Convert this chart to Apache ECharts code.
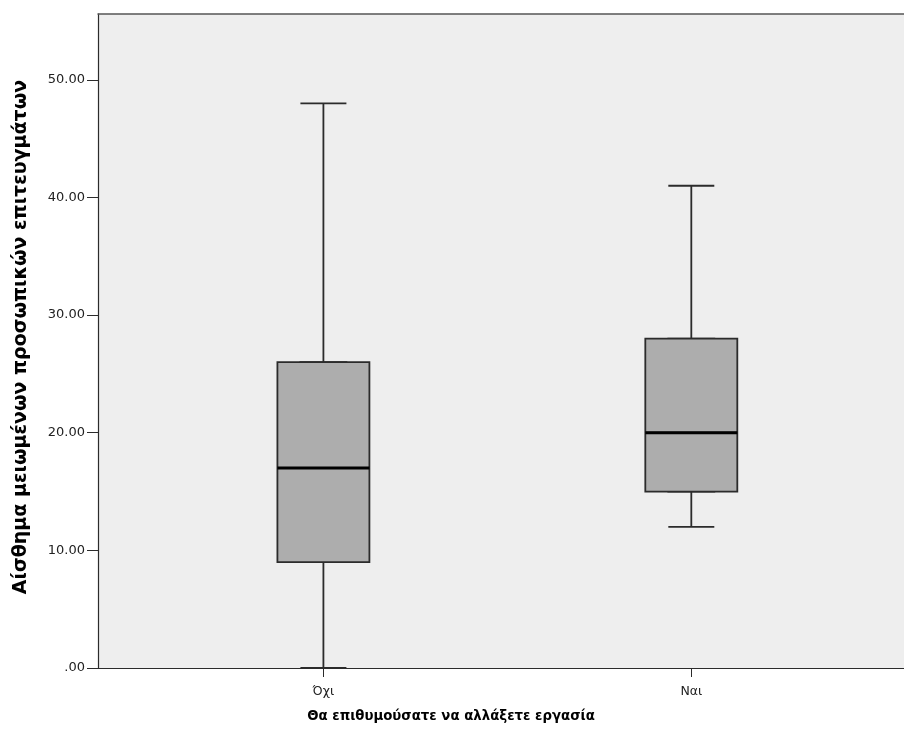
<!DOCTYPE html>
<html>
<head>
<meta charset="utf-8">
<script src="https://cdn.jsdelivr.net/npm/echarts@6/dist/echarts.min.js"></script>
<style>
html,body{margin:0;padding:0;background:#fff;overflow:hidden;}
#chart{width:904px;height:736px;}
</style>
</head>
<body>
<div id="chart"></div>
<script>
// ---- data ----
const categories = ['Όχι', 'Ναι'];
const whiskerLow = [0, 12];
const q1 = [9, 15];
const median = [17, 20];
const q3 = [26, 28];
const whiskerHigh = [48, 41];
const yTicks = [0, 10, 20, 30, 40, 50];
const xTitle = 'Θα επιθυμούσατε να αλλάξετε εργασία';
const yTitle = 'Αίσθημα μειωμένων προσωπικών επιτευγμάτων';

// ---- build ----
const catIdx = categories.map((c, i) => i);
const fullData = catIdx.map(i => [i, whiskerLow[i], q1[i], median[i], q3[i], whiskerHigh[i]]);
const boxData = catIdx.map(i => [i, q1[i], q1[i], median[i], q3[i], q3[i]]);
const medData = catIdx.map(i => [i, median[i]]);

const GRID_W = 806;
const XMIN = -0.6127, XMAX = XMIN + GRID_W / 367.9;
const chart = echarts.init(document.getElementById('chart'), null, {renderer: 'canvas'});
const lineCol = '#2b2b2b';
const opt = {
  animation: false,
  grid: {left: 98, top: 14, right: 0, bottom: 68, show: true,
         backgroundColor: '#eeeeee', borderWidth: 0},
  xAxis: [{
    type: 'value', min: XMIN, max: XMAX, splitLine: {show: false},
    axisLine: {show: true, onZero: false, lineStyle: {color: lineCol, width: 1.2}},
    axisTick: {show: true, length: 9, customValues: catIdx, lineStyle: {color: lineCol}},
    axisLabel: {customValues: catIdx, margin: 17, fontFamily: 'DejaVu Sans', fontSize: 12.5, color: '#222',
                formatter: v => categories[Math.round(v)] || ''}
  }, {
    type: 'value', min: XMIN, max: XMAX, position: 'top', splitLine: {show: false},
    axisLine: {show: true, onZero: false, lineStyle: {color: '#555', width: 1.5}},
    axisTick: {show: false}, axisLabel: {show: false}
  }],
  yAxis: {
    type: 'value', min: 0, max: 55.6, splitLine: {show: false},
    axisLine: {show: true, onZero: false, lineStyle: {color: lineCol, width: 1.2}},
    axisTick: {show: true, length: 11, customValues: yTicks, lineStyle: {color: lineCol}},
    axisLabel: {customValues: yTicks, margin: 13, fontFamily: 'DejaVu Sans', fontSize: 13, color: '#222',
                formatter: v => v === 0 ? '.00' : v.toFixed(2)}
  },
  series: [{
    type: 'boxplot', xAxisIndex: 0, z: 2, boxWidth: [46, 46],
    data: fullData,
    itemStyle: {color: '#adadad', borderColor: lineCol, borderWidth: 1.8}
  }, {
    type: 'boxplot', xAxisIndex: 1, z: 3, boxWidth: [92, 92],
    data: boxData,
    itemStyle: {color: '#adadad', borderColor: lineCol, borderWidth: 1.8}
  }, {
    type: 'scatter', xAxisIndex: 0, z: 4, symbol: 'rect', symbolSize: [92, 3],
    data: medData, itemStyle: {color: '#000', opacity: 1}
  }],
  graphic: [{
    type: 'text', x: 451, y: 717,
    style: {text: xTitle, font: 'bold 13.3px "DejaVu Sans"', fill: '#000', align: 'center', verticalAlign: 'middle'}
  }, {
    type: 'text', x: 21, y: 337, rotation: Math.PI / 2,
    style: {text: yTitle, font: 'bold 19px "DejaVu Sans"', fill: '#000', align: 'center', verticalAlign: 'middle'}
  }]
};
chart.setOption(opt);
</script>
</body>
</html>
